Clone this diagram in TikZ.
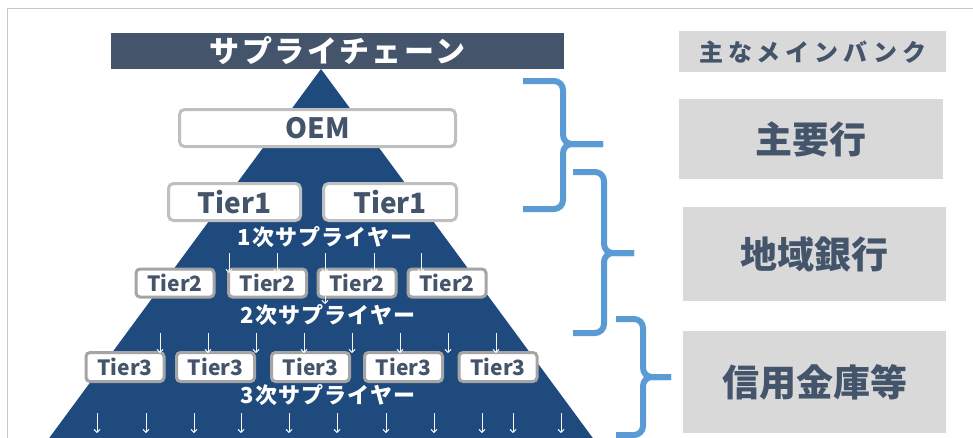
\documentclass[tikz,border=0pt]{standalone}
\usepackage{fontspec}
\setmainfont{Noto Sans CJK JP}
\usetikzlibrary{arrows.meta}
\definecolor{slate}{HTML}{44546A}
\definecolor{tri}{HTML}{1F4A7D}
\definecolor{lightbox}{HTML}{BFBFBF}
\definecolor{darkbox}{HTML}{A5A5A5}
\definecolor{panel}{HTML}{D9D9D9}
\definecolor{brace}{HTML}{5B9BD5}
\definecolor{frame}{HTML}{C8C8C8}
\tikzset{
  bigbox/.style={draw=lightbox, line width=3pt, fill=white, rounded corners=5pt, text=slate,
    font=\bfseries\fontsize{28}{28}\selectfont, inner sep=0pt, minimum height=37pt},
  tierbox/.style={draw=darkbox, line width=3pt, fill=white, rounded corners=4pt, text=slate,
    font=\bfseries\fontsize{21}{21}\selectfont, inner sep=0pt, minimum width=78pt, minimum height=28pt},
  layer/.style={text=white, font=\bfseries\fontsize{22}{22}\selectfont\addfontfeature{LetterSpace=5}, inner sep=0pt},
  dn/.style={-{Straight Barb[length=3pt,width=6pt]}, draw=white!92!gray, line width=0.9pt},
  panelbox/.style={fill=panel, text=slate, inner sep=0pt, anchor=north west,
    font=\bfseries\fontsize{37}{37}\selectfont},
  bracepath/.style={draw=brace, line width=6pt, rounded corners=9pt}
}
\begin{document}
\begin{tikzpicture}[x=1pt,y=-1pt]
\useasboundingbox (0,0) rectangle (973,437);
\clip (0,0) rectangle (973,437);
% frame
\draw[frame, line width=1pt] (7,460) -- (7,8) -- (980,8);
% title bar
\node[fill=slate, minimum width=453pt, minimum height=36pt, inner sep=0pt, text=white,
  font=\bfseries\fontsize{30}{30}\selectfont\addfontfeature{LetterSpace=8}] (title) at (337.5,51) {サプライチェーン};
% triangle
\fill[tri] (321,69) -- (609,460) -- (33,460) -- cycle;
% OEM and tier 1
\node[bigbox, minimum width=276pt] (oem) at (317.5,128) {OEM};
\node[bigbox, minimum width=132pt] (t1a) at (234.5,202) {Tier1};
\node[bigbox, minimum width=133pt] (t1b) at (390,202) {Tier1};
\node[layer] (l1) at (325,237) {1次サプライヤー};
% tier 2
\foreach \x [count=\i] in {175,267.5,357,447}
  \node[tierbox] (t2\i) at (\x,283) {Tier2};
\node[layer] (l2) at (328,315) {2次サプライヤー};
% tier 3
\foreach \x [count=\i] in {125,215.5,310.5,403.5,498}
  \node[tierbox, minimum height=29pt] (t3\i) at (\x,367) {Tier3};
\node[layer] (l3) at (328,395) {3次サプライヤー};
% arrows
\foreach \x in {229,277,325,374,421}
  \draw[dn] (\x,253) -- (\x,273);
\draw[dn] (325,296) -- (325,304);
\foreach \x in {160,208,256,304,352,400,448,496}
  \draw[dn] (\x,333) -- (\x,353);
\foreach \x in {97,146,194,241,289,337,386,434,482,513,561}
  \draw[dn] (\x,413) -- (\x,433);
% braces
\draw[bracepath] (523,81) -| (563,144) -- (603,144);
\draw[bracepath] (523,209) -| (563,144) -- (603,144);
\draw[bracepath] (573,172) -| (604,253) -- (634,253);
\draw[bracepath] (573,333) -| (604,253) -- (634,253);
\draw[bracepath] (616,319) -| (643,377) -- (671,377);
\draw[bracepath] (616,435) -| (643,377) -- (671,377);
% right panels
\node[panelbox, minimum width=267pt, minimum height=41pt,
  font=\bfseries\fontsize{24}{24}\selectfont\addfontfeature{LetterSpace=20}] (hdr) at (679,31) {主なメインバンク};
\node[panelbox, minimum width=264pt, minimum height=80pt] (b1) at (679,99) {主要行};
\node[panelbox, minimum width=263pt, minimum height=94pt] (b2) at (683,207) {地域銀行};
\node[panelbox, minimum width=263pt, minimum height=102pt] (b3) at (683,331) {信用金庫等};
\end{tikzpicture}
\end{document}
